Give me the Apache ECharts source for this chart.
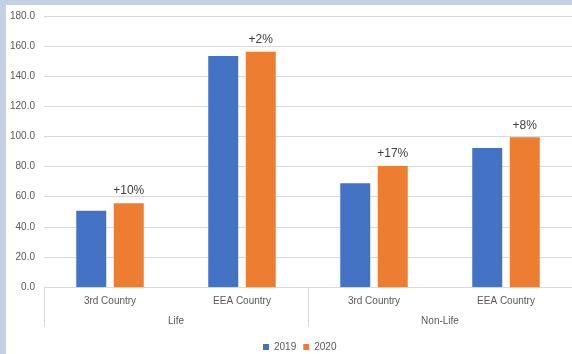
<!DOCTYPE html>
<html><head><meta charset="utf-8">
<script src="https://cdn.jsdelivr.net/npm/echarts@6/dist/echarts.min.js"></script>
<style>html,body{margin:0;padding:0;background:#fff}#c{width:572px;height:354px}</style>
</head><body><div id="c"></div>
<script>
var categories = ['3rd Country','EEA Country','3rd Country','EEA Country'];
var groups = ['Life','Non-Life'];
var seriesNames = ['2019','2020'];
var values2019 = [50.6, 153.4, 68.9, 92.4];
var values2020 = [55.7, 156.2, 80.4, 99.5];
var changeLabels = ['+10%','+2%','+17%','+8%'];

var chart = echarts.init(document.getElementById('c'));
var font = 'Liberation Sans, Arial, sans-serif';
chart.setOption({
  animation: false,
  backgroundColor: '#ffffff',
  textStyle: {fontFamily: font},
  graphic: [
    {type:'rect', left:0, top:0, shape:{width:572, height:5}, style:{fill:'#c2d2e3'}, z:100},
    {type:'rect', left:0, top:0, shape:{width:6, height:354}, style:{fill:'#c2d2e3'}, z:100}
  ],
  grid: {left:44, right:0, top:16, bottom:67},
  legend: {
    data: seriesNames, top: 337, left: 258,
    itemWidth: 6, itemHeight: 6, itemGap: 7,
    textStyle: {color:'#595959', fontSize:10, fontFamily: font},
    icon: 'rect'
  },
  xAxis: [
    {type:'category', data: categories, position:'bottom',
     axisLine:{lineStyle:{color:'#d9d9d9'}}, axisTick:{show:false},
     axisLabel:{color:'#595959', fontSize:10, margin:9}},
    {type:'category', data: groups, position:'bottom',
     axisLine:{show:false},
     axisTick:{show:true, length:40, lineStyle:{color:'#d9d9d9'}},
     axisLabel:{color:'#595959', fontSize:10, margin:29}}
  ],
  yAxis: {
    type:'value', min:0, max:180, interval:20,
    axisLine:{show:false}, axisTick:{show:false},
    splitLine:{lineStyle:{color:'#d9d9d9'}},
    axisLabel:{color:'#595959', fontSize:10, margin:9, formatter:function(v){return v.toFixed(1);}}
  },
  series: [
    {name: seriesNames[0], type:'bar', data: values2019, barWidth:30, barGap:'25%',
     itemStyle:{color:'#4472c4'}},
    {name: seriesNames[1], type:'bar', data: values2020, barWidth:30,
     itemStyle:{color:'#ed7d31'},
     label:{show:true, position:'top', distance:6, color:'#404040', fontSize:12,
       formatter:function(p){return changeLabels[p.dataIndex];}}}
  ]
});
</script></body></html>
